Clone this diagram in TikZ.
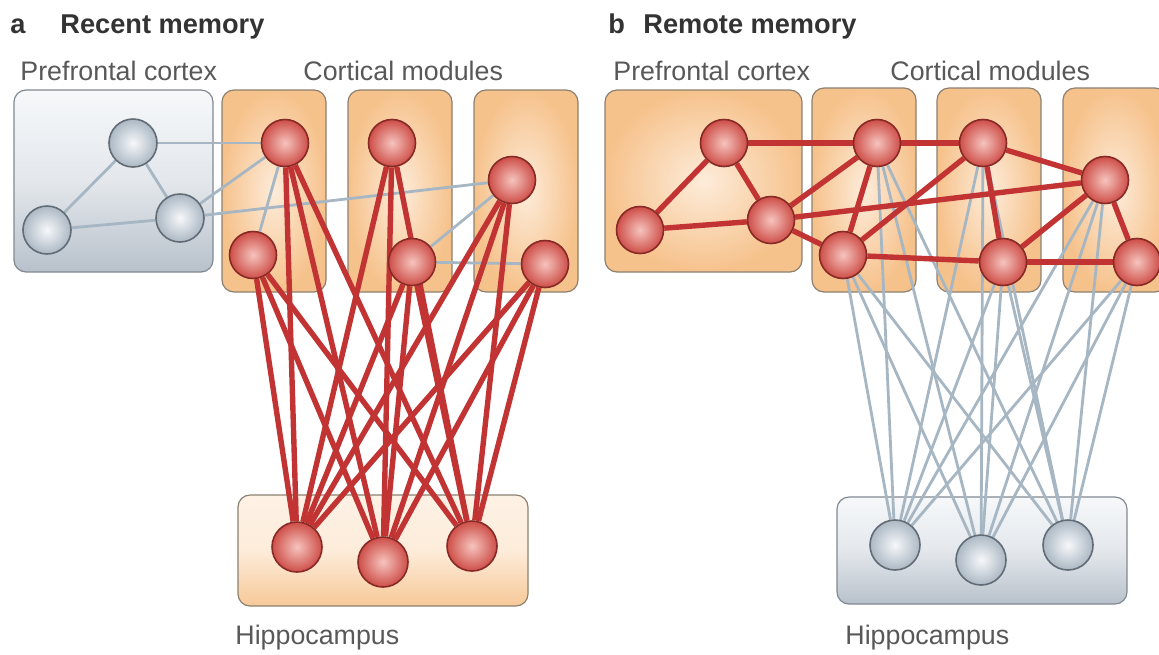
\documentclass[tikz,border=0pt]{standalone}
\usepackage{fontspec}
\setmainfont{Liberation Sans}
\usepackage{tikz}

\definecolor{redcore}{RGB}{246,196,190}
\definecolor{redrim}{RGB}{206,78,72}
\definecolor{rededge}{RGB}{135,42,38}
\definecolor{redwire}{RGB}{194,52,52}
\definecolor{graycore}{RGB}{246,248,250}
\definecolor{grayrim}{RGB}{172,184,196}
\definecolor{grayedge}{RGB}{98,108,118}
\definecolor{graywire}{RGB}{166,182,195}
\definecolor{warmdark}{RGB}{246,194,140}
\definecolor{warmlight}{RGB}{253,236,218}
\definecolor{coolup}{RGB}{246,248,250}
\definecolor{cooldown}{RGB}{184,193,203}
\definecolor{boxline}{RGB}{140,128,112}
\definecolor{labeltext}{RGB}{88,88,88}

\pgfdeclarelayer{bg}
\pgfdeclarelayer{wires}
\pgfsetlayers{bg,wires,main}

\tikzset{
  redcell/.style={circle, minimum size=23.5pt, inner sep=0pt,
    draw=rededge, line width=0.8pt, inner color=redcore, outer color=redrim},
  graycell/.style={circle, minimum size=24pt, inner sep=0pt,
    draw=grayedge, line width=0.8pt, inner color=graycore, outer color=grayrim},
  redlink/.style={draw=redwire, line width=2.7pt},
  graylink/.style={draw=graywire, line width=1.4pt},
  warmbox/.style={draw=boxline, line width=0.6pt, rounded corners=6pt,
    inner color=warmlight, outer color=warmdark},
  coolbox/.style={draw=grayedge!80, line width=0.6pt, rounded corners=6pt,
    top color=coolup, bottom color=cooldown, middle color=coolup!70!cooldown},
  region/.style={font=\fontsize{13.4}{16}\selectfont, text=labeltext, anchor=base west, inner sep=0pt},
  heading/.style={font=\fontsize{13.6}{16}\selectfont\bfseries, text=black!80, anchor=base west, inner sep=0pt}
}

\begin{document}
\begin{tikzpicture}[x=0.5pt, y=-0.5pt]
  \useasboundingbox (0,0) rectangle (1159,654);

  % Titles and region names
  \node[heading] (taga) at (10,33) {a};
  \node[heading] (titlea) at (60,33) {Recent memory};
  \node[heading] (tagb) at (608,33) {b};
  \node[heading] (titleb) at (643,33) {Remote memory};
  \node[region] (pfca) at (20,80) {Prefrontal cortex};
  \node[region] (moda) at (303,80) {Cortical modules};
  \node[region] (hipa) at (235,644) {Hippocampus};
  \node[region] (pfcb) at (613,80) {Prefrontal cortex};
  \node[region] (modb) at (890,80) {Cortical modules};
  \node[region] (hipb) at (845,644) {Hippocampus};

  % Boxes
  \begin{pgfonlayer}{bg}
    \path[coolbox] (14,90) rectangle (213,272);
    \foreach \x in {222,348,474}
      \path[warmbox] (\x,90) rectangle (\x+104,292);
    \path[warmbox, top color=warmlight!70!white, bottom color=warmdark!85!warmlight,
          middle color=warmlight] (238,495) rectangle (528,606);
    \path[warmbox] (605,90) rectangle (802,272);
    \foreach \x in {812,937,1063}
      \path[warmbox] (\x,88) rectangle (\x+104,292);
    \path[coolbox] (837,497) rectangle (1127,604);
  \end{pgfonlayer}

  % Recent memory: cells
  \node[graycell] (pa1) at (133,143) {};
  \node[graycell] (pa2) at (47,230) {};
  \node[graycell] (pa3) at (180,218) {};
  \node[redcell] (ca1) at (285,143) {};
  \node[redcell] (ca2) at (253,255) {};
  \node[redcell] (ca3) at (392,143) {};
  \node[redcell] (ca4) at (412,262) {};
  \node[redcell] (ca5) at (512,180) {};
  \node[redcell] (ca6) at (545,264) {};
  \node[redcell, minimum size=25pt] (ha1) at (297,547) {};
  \node[redcell, minimum size=25pt] (ha2) at (383,562) {};
  \node[redcell, minimum size=25pt] (ha3) at (472,546) {};

  % Remote memory: cells
  \node[redcell] (pb1) at (724,143) {};
  \node[redcell] (pb2) at (640,230) {};
  \node[redcell] (pb3) at (771,220) {};
  \node[redcell] (cb1) at (877,143) {};
  \node[redcell] (cb2) at (843,255) {};
  \node[redcell] (cb3) at (983,143) {};
  \node[redcell] (cb4) at (1003,262) {};
  \node[redcell] (cb5) at (1105,180) {};
  \node[redcell] (cb6) at (1137,262) {};
  \node[graycell, minimum size=25pt] (hb1) at (895,545) {};
  \node[graycell, minimum size=25pt] (hb2) at (981,560) {};
  \node[graycell, minimum size=25pt] (hb3) at (1068,545) {};

  \begin{pgfonlayer}{wires}
    % weak links
    \foreach \a/\b in {pa1/pa2, pa1/pa3, pa2/pa3, pa1/ca1, pa3/ca1, pa3/ca5,
                       ca2/ca1, ca4/ca5, ca4/ca6}
      \draw[graylink] (\a) -- (\b);
    \foreach \i in {1,...,6}
      \foreach \j in {1,2,3}
        \draw[graylink] (cb\i) -- (hb\j);
    % strong links
    \foreach \i in {1,...,6}
      \foreach \j in {1,2,3}
        \draw[redlink] (ca\i) -- (ha\j);
    \foreach \a/\b in {pb1/pb2, pb2/pb3, pb1/pb3, pb1/cb1, pb3/cb1, pb3/cb2,
                       pb3/cb5, cb1/cb2, cb1/cb3, cb2/cb3, cb2/cb4, cb3/cb4,
                       cb3/cb5, cb4/cb5, cb4/cb6, cb5/cb6}
      \draw[redlink] (\a) -- (\b);
  \end{pgfonlayer}
\end{tikzpicture}
\end{document}
